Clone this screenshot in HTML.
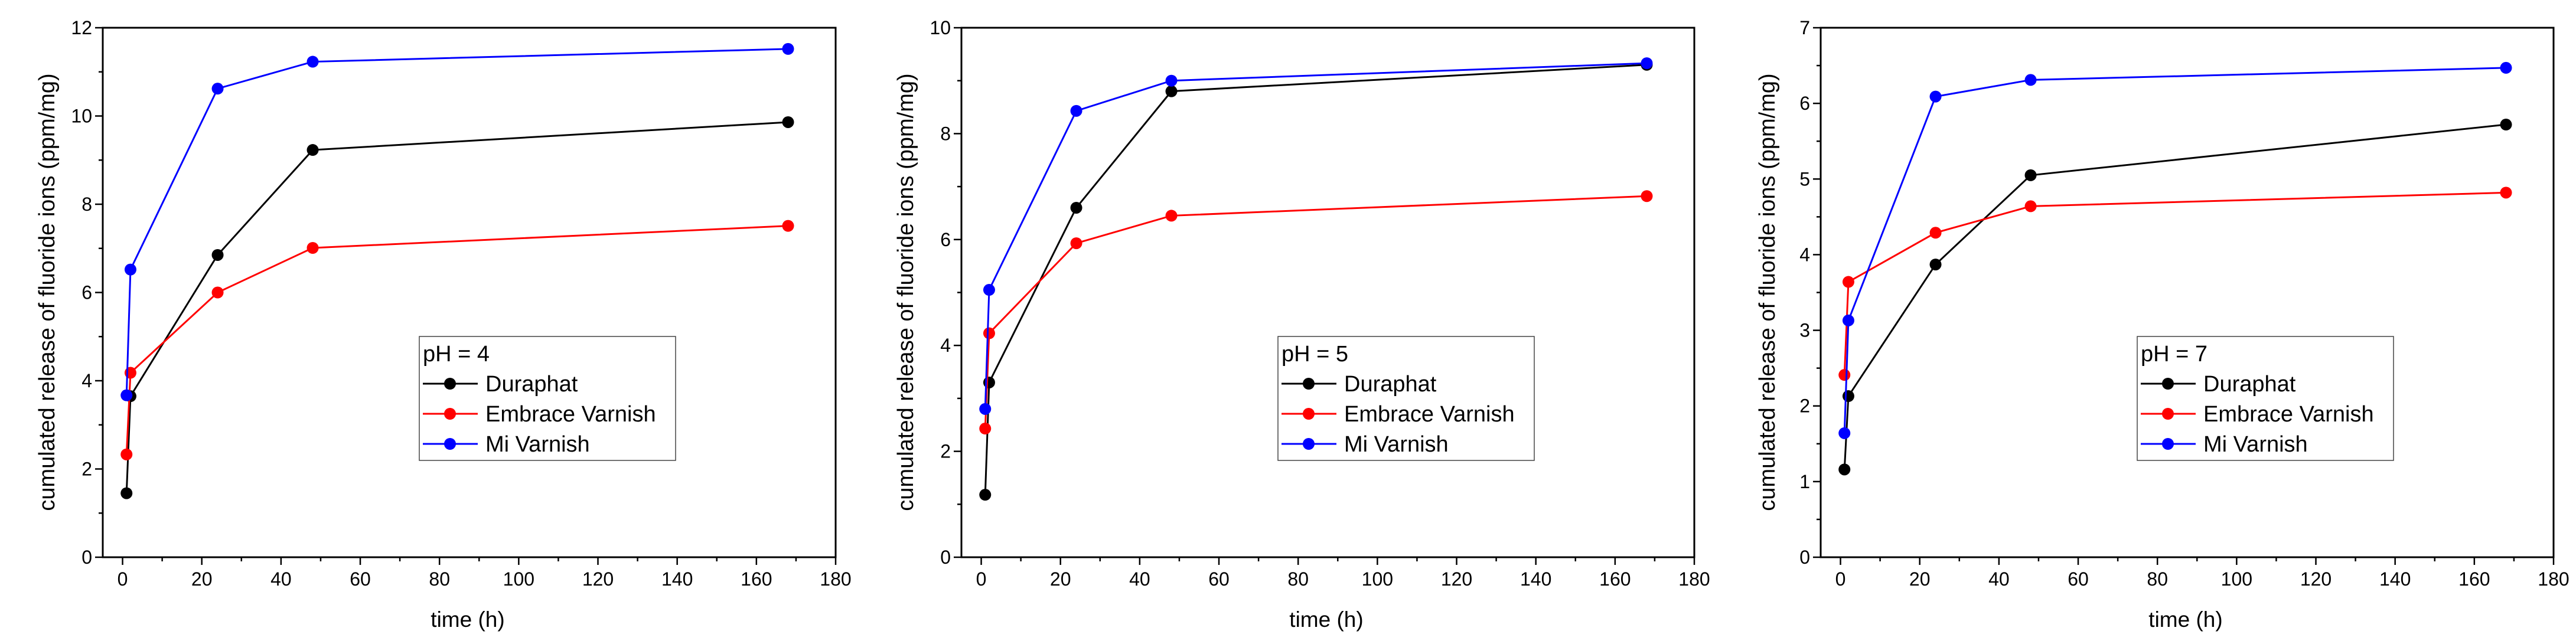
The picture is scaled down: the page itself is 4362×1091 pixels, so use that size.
<!DOCTYPE html>
<html><head><meta charset="utf-8"><style>
body{margin:0;background:#fff;}
svg{display:block;font-family:"Liberation Sans",Arial,sans-serif;}
</style></head><body>
<svg id="fig" width="4362" height="1091" viewBox="0 0 4362 1091" xmlns="http://www.w3.org/2000/svg"></svg>
<script>
const times = [1, 2, 24, 48, 168];
const seriesNames = ["Duraphat", "Embrace Varnish", "Mi Varnish"];
const seriesColors = ["#000000", "#ff0000", "#0000ff"];
const panelTitles = ["pH = 4", "pH = 5", "pH = 7"];
const ph4Duraphat = [1.45, 3.65, 6.85, 9.23, 9.86];
const ph4Embrace = [2.33, 4.18, 6.0, 7.01, 7.51];
const ph4Mi = [3.67, 6.52, 10.62, 11.23, 11.52];
const ph5Duraphat = [1.18, 3.3, 6.6, 8.8, 9.3];
const ph5Embrace = [2.43, 4.23, 5.93, 6.45, 6.82];
const ph5Mi = [2.8, 5.05, 8.43, 9.0, 9.33];
const ph7Duraphat = [1.16, 2.13, 3.87, 5.05, 5.72];
const ph7Embrace = [2.41, 3.64, 4.29, 4.64, 4.82];
const ph7Mi = [1.64, 3.13, 6.09, 6.31, 6.47];
const yMaxes = [12, 10, 7];
const yMajorSteps = [2, 2, 1];
const xTickLabels = [0, 20, 40, 60, 80, 100, 120, 140, 160, 180];

const NS = "http://www.w3.org/2000/svg";
const svg = document.getElementById("fig");
function mk(tag, attrs, parent) {
  const e = document.createElementNS(NS, tag);
  for (const k in attrs) e.setAttribute(k, attrs[k]);
  (parent || svg).appendChild(e);
  return e;
}
const panelData = [[ph4Duraphat, ph4Embrace, ph4Mi],[ph5Duraphat, ph5Embrace, ph5Mi],[ph7Duraphat, ph7Embrace, ph7Mi]];
const offsets = [0, 1454, 2909];

panelData.forEach((series, p) => {
  const ox = offsets[p];
  const L = ox + 174, R = ox + 1415, T = 47, B = 944;
  const xMin = -5, xMax = 180, yMax = yMaxes[p];
  const X = v => L + (v - xMin) / (xMax - xMin) * (R - L);
  const Y = v => B - v / yMax * (B - T);
  const g = mk("g", {});
  
  
  const frame = mk("rect", {x: L, y: T, width: R - L, height: B - T, fill: "none", stroke: "#000", "stroke-width": 3}, g);
  
  
  // x ticks
  for (let v = 0; v <= 180; v += 10) {
    const major = v % 20 === 0;
    const t = mk("line", {x1: X(v), x2: X(v), y1: B, y2: B + (major ? 13 : 7), stroke: "#000", "stroke-width": 2.5}, g);
    
    
  }
  xTickLabels.forEach(v => {
    const t = mk("text", {x: X(v), y: B + 48, "font-size": 32, "text-anchor": "middle", fill: "#000"}, g);
    t.textContent = v;
    
    
  });
  const ms = yMajorSteps[p];
  for (let v = 0; v <= yMax + 1e-9; v += ms / 2) {
    const major = Math.abs(v / ms - Math.round(v / ms)) < 1e-6;
    const t = mk("line", {x1: L, x2: L - (major ? 13 : 7), y1: Y(v), y2: Y(v), stroke: "#000", "stroke-width": 2.5}, g);
    
    
    if (major) {
      const tl = mk("text", {x: L - 18, y: Y(v) + 11, "font-size": 32, "text-anchor": "end", fill: "#000"}, g);
      tl.textContent = Math.round(v);
      
      
    }
  }
  const xt = mk("text", {x: ox + 792, y: 1062, "font-size": 37, "text-anchor": "middle", fill: "#000"}, g);
  xt.textContent = "time (h)";
  
  
  const ytx = ox + (p === 2 ? 96 : 92);
  const yt = mk("text", {x: ytx, y: 495, "font-size": 38, "text-anchor": "middle", fill: "#000", transform: `rotate(-90 ${ytx} 495)`}, g);
  yt.textContent = "cumulated release of fluoride ions (ppm/mg)";
  
  
  // series
  series.forEach((vals, s) => {
    const pts = times.map((t, i) => X(t) + "," + Y(vals[i])).join(" ");
    const pl = mk("polyline", {points: pts, fill: "none", stroke: seriesColors[s], "stroke-width": 3}, g);
    
    
    times.forEach((t, i) => {
      const c = mk("circle", {cx: X(t), cy: Y(vals[i]), r: 10, fill: seriesColors[s]}, g);
      
      
    });
  });
  // legend
  const lg = mk("g", {}, g);
  
  
  mk("rect", {x: ox + 710, y: 570, width: 434, height: 210, fill: "#fff", stroke: "#444", "stroke-width": 1.5}, lg);
  const lt = mk("text", {x: ox + 716, y: 612, "font-size": 38, fill: "#000"}, lg);
  lt.textContent = panelTitles[p];
  
  
  seriesNames.forEach((n, s) => {
    const yy = 650 + s * 51;
    const e = mk("g", {}, lg);
    
    
    mk("line", {x1: ox + 716, x2: ox + 809, y1: yy, y2: yy, stroke: seriesColors[s], "stroke-width": 3}, e);
    mk("circle", {cx: ox + 762, cy: yy, r: 10, fill: seriesColors[s]}, e);
    const tx = mk("text", {x: ox + 822, y: yy + 13, "font-size": 38, fill: "#000"}, e);
    tx.textContent = n;
  });
});
</script>
</body></html>
